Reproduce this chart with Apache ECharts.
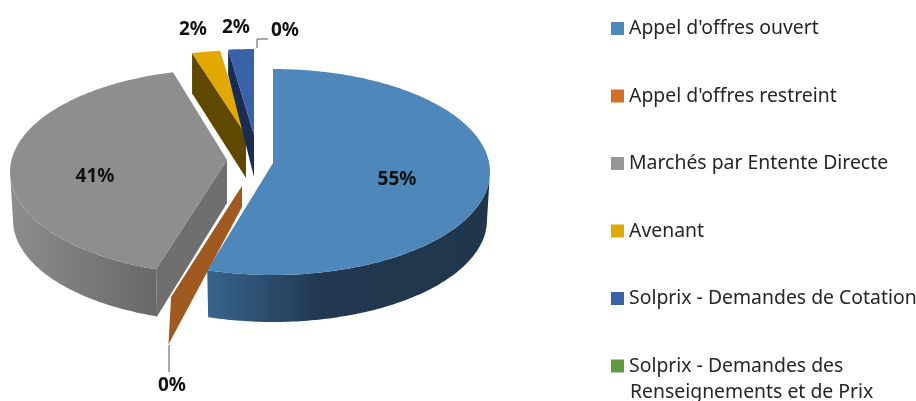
<!DOCTYPE html>
<html>
<head>
<meta charset="utf-8">
<script src="https://cdn.jsdelivr.net/npm/echarts@6/dist/echarts.min.js"></script>
<style>
  html, body { margin: 0; padding: 0; background: #fff; }
  #main { width: 916px; height: 401px; }
</style>
</head>
<body>
<div id="main"></div>
<script>
var categories = [
  "Appel d'offres ouvert",
  "Appel d'offres restreint",
  'Marchés par Entente Directe',
  'Avenant',
  'Solprix - Demandes de Cotation',
  'Solprix - Demandes des\nRenseignements et de Prix'
]
var values = [54.9, 0.4, 40.7, 2.1, 1.9, 0]

// couleurs : face du dessus, paroi interieure, paroi exterieure
var topColors = ['#4e87ba', '#a0591f', '#8e8e8e', '#e0a800', '#3a62a8', '#5f9a40']
var legendColors = ['#4e87ba', '#d2702a', '#969696', '#e0a800', '#3a62a8', '#5f9a40']
var innerColors = ['#2a4a68', '#a0591f', '#6f6f6f', '#5f4800', '#1a2c50', '#33531f']
var outerColors = [
  [[0, '#38648e'], [0.4, '#213850'], [1, '#20364c']],
  [[0, '#a0591f'], [1, '#a0591f']],
  [[0, '#8d8d8d'], [1, '#686868']],
  [[0, '#5f4800'], [1, '#5f4800']],
  [[0, '#1a2c50'], [1, '#1a2c50']],
  [[0, '#33531f'], [1, '#33531f']]
]

// position de chaque part eclatee
var centerX = [273, 242, 227, 246, 254, 254]
var centerY = [172, 200, 172, 153, 152, 152]
var apexLift = [-9, -14, -12, -18, -17, -17]
var apexDepth = [41, 21, 43, 43, 42, 42]
var bottomDy = [48, 48, 48, 39, 24, 24]
var bottomRx = [214, 225, 214, 217, 217, 217]
var wallAtEnd = [false, true, false, false, false, false]
var zOrder = [3, 2, 3, 4, 4, 4]

// etiquettes
var labelX = [397, 172, 95, 193, 236, 285]
var labelY = [180, 386, 177, 30, 28, 31]
var leaders = [
  null,
  [[169, 345], [169, 372]],
  null, null, null,
  [[257, 48], [257, 39], [268, 39]]
]

var RX = 217
var RY = 103
var BOTTOM_RY = 102

function rim(cx, cy, rx, ry, deg) {
  var a = deg * Math.PI / 180
  return [cx + rx * Math.sin(a), cy - ry * Math.cos(a)]
}

function arc(cx, cy, rx, ry, from, to) {
  var pts = []
  var n = Math.max(2, Math.ceil(Math.abs(to - from)))
  for (var i = 0; i <= n; i++) {
    pts.push(rim(cx, cy, rx, ry, from + (to - from) * i / n))
  }
  return pts
}

// angle de depart de chaque part, a partir des valeurs
function startAngle(index) {
  var sum = 0
  for (var i = 0; i < index; i++) sum += values[i]
  return echarts.number.linearMap(sum, [0, 100], [0, 360])
}

function renderSlice(index, params, api) {
  var val = api.value(0)
  var cx = centerX[index]
  var cy = centerY[index]
  var lowY = cy + bottomDy[index]
  var lowRx = bottomRx[index]
  var a0 = startAngle(index)
  var a1 = a0 + echarts.number.linearMap(val, [0, 100], [0, 360])
  var children = []

  if (val > 0) {
    var apex = [cx, cy + apexLift[index]]
    var apexLow = [cx, apex[1] + apexDepth[index]]
    var wallAngle = wallAtEnd[index] ? a1 : a0

    // paroi interieure
    children.push({
      type: 'polygon',
      shape: { points: [apex, apexLow, rim(cx, lowY, lowRx, BOTTOM_RY, wallAngle), rim(cx, cy, RX, RY, wallAngle)] },
      style: { fill: innerColors[index] }
    })

    // paroi exterieure, seulement sur l'avant (la part tres fine se termine en pointe)
    var f0 = Math.max(a0, 90)
    var f1 = Math.min(a1, 270)
    if (f1 > f0 && !wallAtEnd[index]) {
      var pts = arc(cx, cy, RX, RY, f0, f1)
        .concat(arc(cx, lowY, lowRx, BOTTOM_RY, f1, f0))
      children.push({
        type: 'polygon',
        shape: { points: pts },
        style: {
          fill: new echarts.graphic.LinearGradient(0, 0, 1, 0, outerColors[index].map(function(s) {
            return { offset: s[0], color: s[1] }
          }))
        }
      })
    }

    // face du dessus
    children.push({
      type: 'polygon',
      shape: { points: [apex].concat(arc(cx, cy, RX, RY, a0, a1)) },
      style: { fill: topColors[index] }
    })
  }

  if (leaders[index]) {
    children.push({
      type: 'polyline',
      shape: { points: leaders[index] },
      style: { stroke: '#555', lineWidth: 1, fill: null }
    })
  }

  children.push({
    type: 'text',
    style: {
      x: labelX[index],
      y: labelY[index],
      text: Math.round(val) + '%',
      fill: '#111',
      font: 'bold 19px "Noto Sans"',
      align: 'center',
      verticalAlign: 'middle'
    }
  })

  return { type: 'group', children: children }
}

var chartDom = document.getElementById('main')
var myChart = echarts.init(chartDom)

var option = {
  animation: false,
  backgroundColor: '#fff',
  legend: {
    orient: 'vertical',
    left: 611,
    top: 15,
    padding: 0,
    itemWidth: 13,
    itemHeight: 13,
    itemGap: 40.5,
    icon: 'rect',
    selectedMode: false,
    textStyle: {
      fontFamily: 'Noto Sans',
      fontSize: 19.4,
      color: '#262626',
      lineHeight: 27
    },
    formatter: function(name) {
      return name.split('\n')[0]
    },
    data: categories.map(function(name, i) {
      return { name: name, itemStyle: { color: legendColors[i] } }
    })
  },
  graphic: [{
    type: 'text',
    left: 630,
    top: 383,
    style: {
      text: categories[5].split('\n')[1],
      fill: '#262626',
      font: '19.4px "Noto Sans"'
    }
  }],
  series: categories.map(function(name, i) {
    return {
      type: 'custom',
      name: name,
      coordinateSystem: 'none',
      z: zOrder[i],
      silent: true,
      itemStyle: { color: legendColors[i] },
      renderItem: function(params, api) {
        return renderSlice(i, params, api)
      },
      data: [[values[i]]]
    }
  })
}

option && myChart.setOption(option)
</script>
</body>
</html>
